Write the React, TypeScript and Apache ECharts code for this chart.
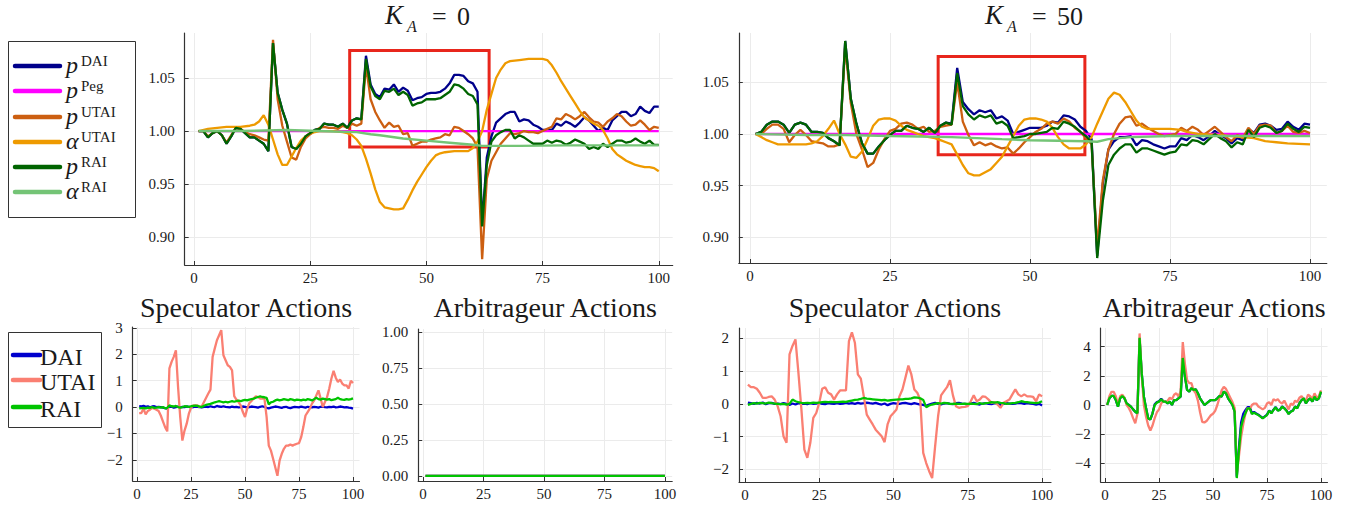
import React, { useEffect, useRef } from 'react';
import * as echarts from 'echarts';

// ---------------- data ----------------
const X_TICKS = [0, 25, 50, 75, 100];
const TOP_Y_TICKS = [0.9, 0.95, 1.0, 1.05];
const SPEC0_Y_TICKS = [-2, -1, 0, 1, 2, 3];
const ARB0_Y_TICKS = [0, 0.25, 0.5, 0.75, 1.0];
const SPEC50_Y_TICKS = [-2, -1, 0, 1, 2];
const ARB50_Y_TICKS = [-4, -2, 0, 2, 4];

// K_A = 0, prices (t = 1..100)
const TL_pDAI = [
  1.000, 1.000, 0.994, 0.998, 1.000, 0.996, 0.988, 0.995, 1.003, 1.002,
  0.998, 0.994, 0.994, 0.991, 0.988, 0.981, 1.083, 1.036, 1.020, 1.007,
  0.985, 0.983, 0.988, 0.995, 0.998, 1.001, 1.002, 1.007, 1.006, 1.006,
  1.004, 1.007, 1.003, 1.010, 1.012, 1.011, 1.071, 1.044, 1.035, 1.032,
  1.040, 1.039, 1.044, 1.037, 1.041, 1.038, 1.029, 1.031, 1.032, 1.035,
  1.036, 1.036, 1.037, 1.040, 1.045, 1.053, 1.053, 1.052, 1.047, 1.045,
  1.037, 0.912, 0.975, 0.995, 1.008, 1.012, 1.016, 1.018, 1.018, 1.009,
  1.011, 1.010, 1.006, 1.004, 1.001, 1.001, 1.001, 1.007, 1.005, 1.009,
  1.007, 1.004, 1.008, 1.013, 1.010, 1.005, 1.000, 1.003, 1.001, 1.010,
  1.014, 1.018, 1.018, 1.014, 1.016, 1.023, 1.019, 1.017, 1.023, 1.023,
];
const TL_pRAI = [
  1.000, 1.000, 0.994, 0.998, 1.000, 0.996, 0.988, 0.995, 1.003, 1.002,
  0.998, 0.994, 0.994, 0.991, 0.988, 0.981, 1.083, 1.036, 1.020, 1.007,
  0.985, 0.983, 0.988, 0.995, 0.998, 1.001, 1.002, 1.007, 1.006, 1.006,
  1.004, 1.007, 1.003, 1.010, 1.012, 1.011, 1.068, 1.042, 1.033, 1.030,
  1.038, 1.037, 1.040, 1.034, 1.037, 1.034, 1.024, 1.026, 1.027, 1.030,
  1.030, 1.030, 1.031, 1.034, 1.037, 1.044, 1.043, 1.040, 1.035, 1.033,
  1.025, 0.910, 0.968, 0.990, 0.996, 0.999, 1.001, 1.001, 0.993, 0.996,
  0.994, 0.991, 0.988, 0.988, 0.988, 0.991, 0.989, 0.991, 0.990, 0.987,
  0.989, 0.992, 0.990, 0.988, 0.983, 0.985, 0.983, 0.988, 0.985, 0.988,
  0.991, 0.991, 0.989, 0.990, 0.993, 0.990, 0.988, 0.991, 0.987, 0.987,
];
const TL_pUTAI = [
  1.000, 1.000, 0.995, 0.998, 1.000, 0.996, 0.989, 0.996, 1.003, 1.002,
  0.999, 0.997, 0.996, 0.994, 0.992, 0.991, 1.086, 1.030, 1.005, 0.990,
  0.975, 0.973, 0.985, 0.993, 0.997, 1.000, 1.003, 1.004, 1.003, 1.003,
  1.002, 1.005, 1.003, 1.007, 1.005, 1.007, 1.062, 1.030, 1.018, 1.010,
  1.003, 1.008, 1.004, 1.005, 0.997, 0.998, 0.986, 0.988, 0.990, 0.990,
  0.992, 0.993, 0.994, 0.997, 0.996, 1.004, 1.003, 1.000, 0.997, 0.993,
  0.985, 0.879, 0.955, 0.972, 0.980, 0.988, 0.993, 0.998, 0.997, 0.998,
  1.000, 0.999, 0.999, 0.998, 1.000, 1.002, 1.004, 1.012, 1.011, 1.016,
  1.014, 1.011, 1.014, 1.018, 1.013, 1.009, 1.008, 1.004, 1.009, 1.012,
  1.016, 1.014, 1.009, 1.005, 1.006, 1.010, 1.006, 1.001, 1.004, 1.003,
];
const TL_pPeg = [[1, 1.0], [100, 1.0]];
const TL_aUTAI = [
  [1, 1.000], [3, 1.002], [5, 1.003], [7, 1.004], [10, 1.004], [12, 1.005], [13, 1.006], [14, 1.009],
  [15, 1.015], [16, 1.006], [17, 0.992], [18, 0.978], [19, 0.968], [20, 0.968], [21, 0.976], [22, 0.984],
  [23, 0.991], [24, 0.995], [25, 0.998], [27, 1.000], [30, 1.000], [32, 0.999], [33, 0.998], [34, 0.996],
  [35, 0.992], [36, 0.986], [37, 0.974], [38, 0.960], [39, 0.945], [40, 0.933], [41, 0.928], [42, 0.927],
  [43, 0.926], [44, 0.926], [45, 0.927], [46, 0.935], [47, 0.944], [48, 0.952], [49, 0.959], [50, 0.966],
  [51, 0.972], [52, 0.977], [53, 0.979], [54, 0.980], [56, 0.981], [59, 0.981], [60, 0.984], [61, 0.990],
  [62, 1.000], [63, 1.020], [64, 1.035], [65, 1.050], [66, 1.058], [67, 1.064], [68, 1.066], [70, 1.067],
  [72, 1.068], [75, 1.068], [76, 1.067], [77, 1.062], [78, 1.055], [79, 1.047], [80, 1.040], [81, 1.033],
  [82, 1.026], [83, 1.019], [84, 1.013], [85, 1.010], [86, 1.007], [87, 1.005], [88, 1.001], [89, 0.993],
  [90, 0.983], [91, 0.978], [92, 0.975], [93, 0.972], [94, 0.970], [95, 0.968], [96, 0.967], [97, 0.966],
  [98, 0.966], [99, 0.965], [100, 0.962],
];
const TL_aRAI = [
  [1, 1.000], [10, 1.000], [20, 1.001], [30, 0.9995], [35, 0.999], [38, 0.997], [40, 0.996], [45, 0.993],
  [50, 0.991], [55, 0.989], [60, 0.987], [62, 0.986], [70, 0.986], [80, 0.9865], [90, 0.9865], [100, 0.9865],
];
const TL_BOX = [[33.5, 0.985], [63.5, 1.076]];

// K_A = 50, prices
const TR_pDAI = [
  1.000, 1.002, 1.009, 1.012, 1.012, 1.009, 1.001, 1.009, 1.011, 1.009,
  1.002, 1.002, 1.001, 0.996, 0.993, 0.989, 1.090, 1.034, 1.010, 0.991,
  0.981, 0.981, 0.988, 0.994, 0.999, 1.003, 1.003, 1.008, 1.006, 1.005,
  1.002, 1.006, 1.001, 1.008, 1.011, 1.010, 1.064, 1.031, 1.024, 1.019,
  1.023, 1.021, 1.023, 1.015, 1.017, 1.013, 1.000, 1.002, 1.004, 1.006,
  1.006, 1.006, 1.008, 1.012, 1.011, 1.018, 1.017, 1.014, 1.007, 1.003,
  0.995, 0.882, 0.952, 0.985, 0.993, 0.997, 0.997, 0.998, 0.989, 0.994,
  0.993, 0.990, 0.988, 0.986, 0.988, 0.988, 0.996, 0.994, 0.999, 0.997,
  0.994, 0.998, 1.003, 0.999, 0.996, 0.991, 0.996, 0.994, 1.005, 1.001,
  1.009, 1.010, 1.008, 1.004, 1.005, 1.012, 1.007, 1.004, 1.010, 1.009,
];
const TR_pRAI = [
  1.000, 1.002, 1.009, 1.012, 1.012, 1.009, 1.001, 1.009, 1.011, 1.009,
  1.002, 1.002, 1.001, 0.996, 0.993, 0.989, 1.090, 1.034, 1.010, 0.991,
  0.981, 0.981, 0.988, 0.994, 0.999, 1.003, 1.003, 1.008, 1.006, 1.005,
  1.002, 1.006, 1.001, 1.008, 1.011, 1.009, 1.059, 1.027, 1.019, 1.014,
  1.018, 1.016, 1.018, 1.010, 1.012, 1.008, 0.996, 0.997, 0.998, 1.000,
  1.000, 1.001, 1.002, 1.006, 1.005, 1.012, 1.010, 1.007, 1.002, 0.998,
  0.992, 0.880, 0.935, 0.970, 0.980, 0.986, 0.990, 0.990, 0.982, 0.986,
  0.986, 0.984, 0.982, 0.980, 0.982, 0.983, 0.990, 0.989, 0.994, 0.993,
  0.990, 0.995, 1.000, 0.996, 0.993, 0.987, 0.992, 0.990, 1.004, 0.997,
  1.006, 1.008, 1.006, 1.001, 1.003, 1.010, 1.005, 1.002, 1.007, 1.006,
];
const TR_pUTAI = [
  1.000, 1.000, 1.005, 1.009, 1.009, 1.005, 0.992, 0.999, 1.004, 0.999,
  0.993, 0.992, 0.991, 0.988, 0.988, 0.990, 1.085, 1.030, 1.000, 0.985,
  0.968, 0.972, 0.985, 0.995, 1.003, 1.005, 1.010, 1.011, 1.009, 1.005,
  1.007, 1.002, 1.003, 1.007, 1.008, 1.009, 1.050, 1.012, 0.999, 0.989,
  0.992, 0.989, 0.991, 0.988, 0.986, 0.987, 0.981, 0.986, 0.992, 0.997,
  1.002, 1.005, 1.010, 1.012, 1.010, 1.015, 1.012, 1.006, 1.002, 0.996,
  0.990, 0.890, 0.955, 0.985, 1.000, 1.010, 1.016, 1.017, 1.008, 1.010,
  1.006, 1.003, 1.000, 0.998, 0.999, 1.000, 1.006, 1.003, 1.007, 1.004,
  0.999, 1.003, 1.007, 1.002, 0.997, 0.993, 0.999, 0.996, 1.006, 1.000,
  1.008, 1.009, 1.008, 1.001, 1.003, 1.008, 1.002, 1.001, 1.003, 1.001,
];
const TR_pPeg = [[1, 1.0], [100, 1.0]];
const TR_aUTAI = [
  [1, 1.000], [2, 0.997], [3, 0.994], [4, 0.992], [5, 0.990], [10, 0.990], [11, 0.991], [12, 0.993],
  [13, 0.998], [14, 1.005], [15, 1.013], [16, 1.000], [17, 0.990], [18, 0.978], [19, 0.977], [20, 0.983],
  [21, 0.995], [22, 1.008], [23, 1.014], [24, 1.015], [25, 1.015], [26, 1.013], [27, 1.008], [28, 1.004],
  [29, 1.002], [30, 1.000], [31, 0.998], [32, 0.997], [33, 0.996], [34, 0.994], [35, 0.992], [36, 0.990],
  [37, 0.980], [38, 0.970], [39, 0.962], [40, 0.960], [41, 0.960], [42, 0.963], [43, 0.966], [44, 0.972],
  [45, 0.978], [46, 0.988], [47, 0.998], [48, 1.008], [49, 1.014], [50, 1.015], [51, 1.015], [52, 1.014],
  [53, 1.012], [54, 1.006], [55, 0.997], [56, 0.990], [57, 0.986], [59, 0.986], [60, 0.990], [61, 0.997],
  [62, 1.010], [63, 1.022], [64, 1.034], [65, 1.040], [66, 1.038], [67, 1.031], [68, 1.022], [69, 1.013],
  [70, 1.007], [71, 1.005], [75, 1.005], [77, 1.004], [78, 1.002], [80, 1.000], [84, 0.999], [86, 0.998],
  [88, 0.997], [90, 0.996], [92, 0.993], [94, 0.992], [96, 0.991], [100, 0.990],
];
const TR_aRAI = [
  [1, 1.000], [10, 0.999], [17, 0.999], [25, 0.998], [36, 0.997], [45, 0.995], [50, 0.994], [55, 0.9935],
  [60, 0.993], [62, 0.9925], [64, 0.995], [68, 0.997], [75, 0.998], [100, 0.998],
];
const TR_BOX = [[33.6, 0.980], [59.8, 1.075]];

// Speculator actions, K_A = 0
const S0_DAI = [
  0.03, 0.02, 0.05, 0.01, 0.03, -0.01, 0.02, 0.03, 0.00, 0.01,
  0.00, -0.02, -0.04, -0.06, 0.02, 0.01, -0.02, 0.00, 0.02, -0.01,
  0.01, 0.00, 0.02, 0.01, -0.01, 0.00, 0.02, 0.01, 0.00, -0.01,
  0.01, 0.02, 0.00, 0.03, 0.01, 0.00, 0.04, 0.02, 0.01, 0.03,
  0.01, 0.00, -0.01, 0.02, 0.00, 0.01, -0.01, 0.00, 0.02, 0.01,
  -0.01, 0.00, 0.02, 0.01, 0.00, -0.02, 0.01, 0.03, 0.00, -0.03,
  -0.05, -0.02, 0.00, 0.02, 0.01, -0.01, -0.03, 0.00, 0.01, -0.02,
  -0.04, -0.01, 0.01, 0.00, -0.01, 0.02, 0.00, -0.02, 0.01, 0.00,
  -0.01, 0.01, 0.00, -0.02, 0.01, 0.02, 0.00, -0.01, 0.01, 0.00,
  0.02, -0.01, 0.00, 0.02, 0.01, -0.01, 0.00, -0.02, -0.03, -0.06,
];
const S0_UTAI = [
  -0.23, -0.23, -0.06, -0.28, -0.15, -0.10, -0.03, -0.06, -0.10, -0.15,
  -0.32, -0.54, -0.76, -0.92, 1.46, 1.71, 1.90, 2.15, 0.76, -0.38,
  -1.27, -0.89, -0.63, -0.25, -0.03, 0.06, 0.06, 0.06, 0.00, 0.03,
  0.19, 0.35, 0.51, 0.66, 1.90, 2.22, 2.53, 2.72, 2.91, 1.96,
  1.77, 1.58, 1.52, 1.39, 0.41, 0.28, 0.19, 0.06, -0.19, -0.38,
  -0.06, 0.15, 0.23, 0.32, 0.41, 0.38, 0.32, 0.32, 0.32, -0.38,
  -1.46, -1.65, -1.96, -2.28, -2.60, -2.03, -1.77, -1.58, -1.46, -1.46,
  -1.42, -1.46, -1.42, -1.39, -1.37, -1.14, -0.76, -0.32, -0.19, -0.06,
  0.13, 0.25, 0.44, 0.63, 0.32, 0.00, 0.19, 0.38, 0.70, 1.08,
  1.37, 1.11, 0.95, 1.04, 0.89, 0.82, 0.82, 0.70, 0.99, 0.91,
];
const S0_RAI = [
  -0.05, -0.04, -0.03, -0.05, -0.02, -0.03, 0.00, -0.03, -0.02, 0.00,
  -0.02, 0.00, -0.05, -0.03, 0.06, 0.03, 0.02, 0.04, 0.00, -0.02,
  0.00, 0.03, 0.02, 0.01, 0.03, 0.04, 0.05, 0.04, 0.02, 0.00,
  0.05, 0.08, 0.10, 0.12, 0.15, 0.18, 0.20, 0.22, 0.20, 0.18,
  0.20, 0.18, 0.20, 0.22, 0.20, 0.22, 0.24, 0.22, 0.25, 0.27,
  0.25, 0.28, 0.30, 0.32, 0.35, 0.38, 0.40, 0.38, 0.37, 0.35,
  0.10, 0.18, 0.20, 0.25, 0.28, 0.25, 0.27, 0.30, 0.28, 0.26,
  0.30, 0.28, 0.25, 0.28, 0.27, 0.25, 0.28, 0.26, 0.30, 0.28,
  0.25, 0.30, 0.35, 0.30, 0.28, 0.32, 0.30, 0.28, 0.30, 0.26,
  0.28, 0.30, 0.35, 0.30, 0.28, 0.27, 0.30, 0.28, 0.30, 0.33,
];

// Arbitrageur actions, K_A = 0 (all zero)
const A0_DAI = [[1, 0], [100, 0]];
const A0_UTAI = [[1, 0], [100, 0]];
const A0_RAI = [[1, 0], [100, 0]];

// Speculator actions, K_A = 50
const S50_DAI = [
  0.04, 0.02, 0.00, 0.03, 0.01, 0.04, -0.01, 0.02, 0.03, 0.00,
  0.01, -0.01, 0.02, 0.00, -0.03, 0.01, -0.02, 0.02, 0.00, 0.01,
  -0.01, 0.02, 0.00, 0.01, 0.03, 0.00, -0.01, 0.02, 0.01, 0.00,
  0.02, 0.00, 0.01, 0.03, 0.01, 0.02, 0.00, 0.03, 0.01, 0.02,
  0.04, 0.02, 0.01, 0.03, 0.00, -0.02, 0.01, -0.04, 0.00, 0.02,
  0.01, 0.00, 0.02, 0.03, 0.01, -0.01, 0.02, 0.00, -0.02, -0.03,
  -0.06, -0.02, 0.01, 0.03, 0.00, -0.02, 0.01, 0.02, 0.00, -0.01,
  0.02, 0.03, 0.01, 0.00, -0.02, 0.01, 0.03, 0.00, -0.02, 0.01,
  0.02, 0.00, -0.01, 0.02, 0.01, -0.03, 0.00, 0.02, 0.01, 0.00,
  0.01, 0.03, 0.02, 0.00, 0.02, 0.01, 0.00, -0.02, 0.00, -0.05,
];
const S50_UTAI = [
  0.59, 0.51, 0.51, 0.46, 0.34, 0.18, 0.18, 0.21, 0.23, 0.13,
  -0.07, -0.38, -1.00, -1.19, 1.51, 1.77, 1.97, 0.95, -0.17, -1.40,
  -1.65, -1.19, -0.43, -0.28, 0.03, 0.46, 0.51, 0.34, 0.29, 0.13,
  0.29, 0.41, 0.41, 0.41, 1.92, 2.19, 1.87, 0.90, 0.77, 0.23,
  -0.33, -0.48, -0.63, -0.79, -0.89, -0.99, -1.17, -0.63, -0.38, -0.28,
  -0.17, 0.23, 0.44, 0.80, 1.17, 0.90, 0.44, 0.34, 0.13, -1.50,
  -1.81, -2.06, -2.27, -1.30, -0.38, 0.26, 0.39, 0.51, 0.72, 0.26,
  -0.07, -0.12, -0.10, -0.09, -0.07, 0.08, 0.26, 0.08, 0.13, 0.23,
  0.21, 0.13, 0.03, 0.05, -0.02, -0.12, 0.03, 0.08, 0.13, 0.29,
  0.44, 0.29, 0.23, 0.29, 0.23, 0.23, 0.21, 0.08, 0.29, 0.23,
];
const S50_RAI = [
  -0.03, 0.00, 0.02, 0.01, 0.03, 0.02, 0.01, 0.04, 0.02, 0.01,
  0.00, -0.01, 0.00, -0.02, 0.00, 0.13, 0.08, 0.05, 0.03, 0.02,
  0.03, 0.02, 0.04, 0.03, 0.04, 0.05, 0.06, 0.05, 0.06, 0.05,
  0.05, 0.06, 0.07, 0.06, 0.08, 0.10, 0.12, 0.13, 0.15, 0.18,
  0.16, 0.15, 0.14, 0.13, 0.12, 0.11, 0.12, 0.10, 0.11, 0.12,
  0.13, 0.14, 0.14, 0.15, 0.15, 0.17, 0.20, 0.19, 0.17, 0.12,
  -0.10, -0.05, -0.02, 0.00, 0.02, 0.01, 0.03, 0.02, 0.00, 0.00,
  0.01, 0.00, 0.00, 0.01, 0.00, 0.01, 0.00, -0.01, 0.02, 0.00,
  0.02, 0.03, 0.05, 0.04, 0.05, 0.03, 0.02, 0.00, 0.01, 0.02,
  0.03, 0.05, 0.08, 0.06, 0.05, 0.04, 0.03, 0.02, 0.04, 0.08,
];

// Arbitrageur actions, K_A = 50
const A50_DAI = [
  0.00, 0.46, 0.62, 0.62, 0.34, -0.11, 0.46, 0.62, 0.46, 0.11,
  0.00, -0.11, -0.30, -0.46, -0.57, 4.55, 2.15, 0.57, -0.23, -0.92,
  -0.99, -0.57, 0.05, 0.20, 0.25, 0.42, 0.25, 0.23, 0.11, 0.23,
  0.00, 0.34, 0.34, 0.46, 0.57, 3.20, 1.95, 1.03, 0.92, 1.15,
  1.03, 1.08, 0.80, 0.46, 0.23, 0.00, 0.11, 0.23, 0.34, 0.34,
  0.34, 0.46, 0.62, 0.57, 0.92, 0.80, 0.46, 0.23, 0.00, -0.46,
  -4.90, -2.90, -1.20, -0.60, -0.35, -0.15, -0.15, -0.55, -0.48, -0.58,
  -0.66, -0.78, -0.90, -0.78, -0.66, -0.37, -0.55, -0.32, -0.14, -0.37,
  -0.32, -0.10, -0.21, -0.37, -0.60, -0.44, -0.37, -0.10, -0.21, 0.12,
  0.34, 0.46, 0.11, 0.34, 0.46, 0.23, 0.57, 0.34, 0.46, 0.92,
];
const A50_UTAI = [
  0.00, 0.60, 0.90, 0.90, 0.60, 0.00, 0.60, 0.70, 0.50, 0.00,
  -0.20, -0.50, -0.90, -1.25, -0.60, 4.90, 2.00, 0.00, -0.80, -1.40,
  -1.75, -1.40, -0.90, -0.50, -0.30, 0.10, 0.30, 0.20, 0.30, 0.50,
  0.40, 0.70, 0.80, 0.60, 0.90, 4.30, 2.80, 1.70, 1.50, 1.50,
  1.00, 0.80, 0.30, -0.50, -1.15, -1.20, -1.10, -0.90, -0.70, -0.60,
  -0.40, 0.00, 0.50, 1.00, 1.25, 1.10, 0.80, 0.50, 0.20, -0.20,
  -4.70, -3.50, -2.20, -1.30, -0.60, -0.20, -0.30, 0.00, 0.10, 0.10,
  -0.10, -0.20, -0.30, -0.20, 0.10, 0.20, 0.00, 0.40, 0.30, 0.40,
  0.20, 0.10, 0.30, 0.00, -0.30, 0.10, 0.00, 0.30, 0.20, 0.50,
  0.60, 0.40, 0.30, 0.70, 0.60, 0.40, 0.80, 0.50, 0.60, 1.00,
];
const A50_RAI = [
  0.00, 0.46, 0.62, 0.62, 0.34, -0.11, 0.46, 0.62, 0.46, 0.11,
  0.00, -0.11, -0.30, -0.46, -0.57, 4.60, 2.18, 0.57, -0.23, -0.92,
  -0.99, -0.57, 0.00, 0.16, 0.23, 0.39, 0.23, 0.23, 0.11, 0.23,
  0.00, 0.34, 0.34, 0.46, 0.57, 3.22, 1.95, 1.03, 0.92, 1.15,
  1.03, 1.08, 0.80, 0.46, 0.23, 0.00, 0.11, 0.23, 0.34, 0.34,
  0.34, 0.46, 0.62, 0.57, 0.92, 0.80, 0.46, 0.23, 0.00, -0.46,
  -5.00, -3.10, -1.50, -0.92, -0.57, -0.23, -0.23, -0.62, -0.53, -0.62,
  -0.69, -0.80, -0.92, -0.80, -0.69, -0.39, -0.57, -0.34, -0.16, -0.39,
  -0.34, -0.11, -0.23, -0.39, -0.62, -0.46, -0.39, -0.11, -0.23, 0.11,
  0.34, 0.46, 0.11, 0.34, 0.46, 0.23, 0.57, 0.34, 0.46, 0.92,
];

// ---------------- styling ----------------
const FONT = 'Liberation Serif, serif';
const AXIS_COLOR = '#333333';
const GRID_COLOR = '#ebebeb';
const TEXT_COLOR = '#1a1a1a';

const C_pDAI = '#00008b';
const C_pPeg = '#ff00ff';
const C_pUTAI = '#cc5f11';
const C_aUTAI = '#ee9a00';
const C_pRAI = '#006400';
const C_aRAI = '#74c476';
const C_DAI = '#0000cd';
const C_UTAI = '#fa7f72';
const C_RAI = '#00c400';

const toXY = (arr: number[]) => arr.map((v, i) => [i + 1, v]);
const minus = (v: number) => (v < 0 ? '\u2212' + Math.abs(v) : String(v));

const GRIDS = [
  { left: 184.7, top: 33, width: 488, height: 232 },
  { left: 738.8, top: 33, width: 588, height: 230 },
  { left: 132.7, top: 327, width: 226.8, height: 154 },
  { left: 418.2, top: 329, width: 254, height: 152 },
  { left: 739, top: 328, width: 312, height: 154 },
  { left: 1100.7, top: 328, width: 226.8, height: 154 },
];
const Y_RANGES = [
  [0.8736, 1.0925],
  [0.8752, 1.0977],
  [-2.8, 3.03],
  [-0.035, 1.021],
  [-2.39, 2.32],
  [-5.27, 5.27],
];
const Y_TICKS = [TOP_Y_TICKS, TOP_Y_TICKS, SPEC0_Y_TICKS, ARB0_Y_TICKS, SPEC50_Y_TICKS, ARB50_Y_TICKS];
const Y_FMT = [
  (v: number) => v.toFixed(2),
  (v: number) => v.toFixed(2),
  minus,
  (v: number) => v.toFixed(2),
  minus,
  minus,
];

function line(name: string, data: any[], color: string, gi: number, width = 2.3, extra: any = {}) {
  return {
    name,
    type: 'line',
    xAxisIndex: gi,
    yAxisIndex: gi,
    data,
    showSymbol: false,
    symbol: 'none',
    lineStyle: { color, width },
    itemStyle: { color },
    z: 3,
    ...extra,
  };
}

function redBox(box: number[][]) {
  return {
    silent: true,
    itemStyle: { color: 'rgba(0,0,0,0)', borderColor: '#e8261c', borderWidth: 3 },
    data: [[{ coord: box[0] }, { coord: box[1] }]],
  };
}

function buildOption() {
  const xAxis = GRIDS.map((_, gi) => ({
    type: 'value',
    gridIndex: gi,
    min: -2,
    max: 103,
    axisLine: { show: true, onZero: false, lineStyle: { color: AXIS_COLOR, width: 1.2 } },
    axisTick: { show: true, inside: true, length: 4, customValues: X_TICKS, lineStyle: { color: AXIS_COLOR } },
    axisLabel: { customValues: X_TICKS, fontFamily: FONT, fontSize: 15, color: TEXT_COLOR, margin: 5 },
    splitLine: { show: true, lineStyle: { color: GRID_COLOR, width: 1 } },
  }));
  const yAxis = GRIDS.map((_, gi) => ({
    type: 'value',
    gridIndex: gi,
    min: Y_RANGES[gi][0],
    max: Y_RANGES[gi][1],
    axisLine: { show: true, onZero: false, lineStyle: { color: AXIS_COLOR, width: 1.2 } },
    axisTick: { show: true, inside: true, length: 4, customValues: Y_TICKS[gi], lineStyle: { color: AXIS_COLOR } },
    axisLabel: {
      customValues: Y_TICKS[gi],
      formatter: Y_FMT[gi],
      fontFamily: FONT,
      fontSize: 15,
      color: TEXT_COLOR,
      margin: 10,
    },
    splitLine: { show: true, lineStyle: { color: GRID_COLOR, width: 1 } },
  }));

  const series = [
    line('pDAI0', toXY(TL_pDAI), C_pDAI, 0),
    line('pPeg0', TL_pPeg, C_pPeg, 0),
    line('pUTAI0', toXY(TL_pUTAI), C_pUTAI, 0),
    line('aUTAI0', TL_aUTAI, C_aUTAI, 0),
    line('pRAI0', toXY(TL_pRAI), C_pRAI, 0),
    line('aRAI0', TL_aRAI, C_aRAI, 0, 2.4, { markArea: redBox(TL_BOX) }),

    line('pDAI50', toXY(TR_pDAI), C_pDAI, 1),
    line('pPeg50', TR_pPeg, C_pPeg, 1),
    line('pUTAI50', toXY(TR_pUTAI), C_pUTAI, 1),
    line('aUTAI50', TR_aUTAI, C_aUTAI, 1),
    line('pRAI50', toXY(TR_pRAI), C_pRAI, 1),
    line('aRAI50', TR_aRAI, C_aRAI, 1, 2.4, { markArea: redBox(TR_BOX) }),

    line('sDAI0', toXY(S0_DAI), C_DAI, 2),
    line('sUTAI0', toXY(S0_UTAI), C_UTAI, 2),
    line('sRAI0', toXY(S0_RAI), C_RAI, 2),

    line('aDAI0', A0_DAI, C_DAI, 3),
    line('aUTAI0b', A0_UTAI, C_UTAI, 3),
    line('aRAI0b', A0_RAI, C_RAI, 3),

    line('sDAI50', toXY(S50_DAI), C_DAI, 4),
    line('sUTAI50', toXY(S50_UTAI), C_UTAI, 4),
    line('sRAI50', toXY(S50_RAI), C_RAI, 4),

    line('aDAI50', toXY(A50_DAI), C_DAI, 5),
    line('aUTAI50b', toXY(A50_UTAI), C_UTAI, 5),
    line('aRAI50b', toXY(A50_RAI), C_RAI, 5),
  ];

  const graphic: any[] = [];

  // Top legend
  graphic.push({
    type: 'rect',
    shape: { x: 8.5, y: 41.5, width: 127, height: 176 },
    style: { fill: '#fff', stroke: '#333', lineWidth: 1 },
    z: 10,
  });
  const topLegend = [
    { sym: 'p', sup: 'DAI', color: C_pDAI, cy: 66 },
    { sym: 'p', sup: 'Peg', color: C_pPeg, cy: 91 },
    { sym: 'p', sup: 'UTAI', color: C_pUTAI, cy: 117 },
    { sym: '\u03b1', sup: 'UTAI', color: C_aUTAI, cy: 142 },
    { sym: 'p', sup: 'RAI', color: C_pRAI, cy: 167 },
    { sym: '\u03b1', sup: 'RAI', color: C_aRAI, cy: 192 },
  ];
  topLegend.forEach((e) => {
    graphic.push({
      type: 'line',
      shape: { x1: 15, y1: e.cy, x2: 60, y2: e.cy },
      style: { stroke: e.color, lineWidth: 4.5, lineCap: 'round' },
      z: 11,
    });
    graphic.push({
      type: 'text',
      x: 66,
      y: e.cy - 1,
      style: { text: e.sym, fontFamily: FONT, fontStyle: 'italic', fontSize: 24, fill: TEXT_COLOR, verticalAlign: 'middle' },
      z: 11,
    });
    graphic.push({
      type: 'text',
      x: 81,
      y: e.cy - 5,
      style: { text: e.sup, fontFamily: FONT, fontSize: 15, fill: TEXT_COLOR, verticalAlign: 'middle' },
      z: 11,
    });
  });

  // Bottom legend
  graphic.push({
    type: 'rect',
    shape: { x: 8.5, y: 332.5, width: 93, height: 95 },
    style: { fill: '#fff', stroke: '#333', lineWidth: 1 },
    z: 10,
  });
  const botLegend = [
    { name: 'DAI', color: C_DAI, cy: 355 },
    { name: 'UTAI', color: C_UTAI, cy: 380 },
    { name: 'RAI', color: C_RAI, cy: 407 },
  ];
  botLegend.forEach((e) => {
    graphic.push({
      type: 'line',
      shape: { x1: 13, y1: e.cy, x2: 40, y2: e.cy },
      style: { stroke: e.color, lineWidth: 4.5, lineCap: 'round' },
      z: 11,
    });
    graphic.push({
      type: 'text',
      x: 40,
      y: e.cy + 2,
      style: { text: e.name, fontFamily: FONT, fontSize: 24, fill: TEXT_COLOR, verticalAlign: 'middle' },
      z: 11,
    });
  });

  // Subplot titles
  const subTitles = [
    { text: 'Speculator Actions', gi: 2 },
    { text: 'Arbitrageur Actions', gi: 3 },
    { text: 'Speculator Actions', gi: 4 },
    { text: 'Arbitrageur Actions', gi: 5 },
  ];
  subTitles.forEach((t) => {
    const g = GRIDS[t.gi];
    graphic.push({
      type: 'text',
      x: g.left + g.width / 2,
      y: 307,
      style: { text: t.text, fontFamily: FONT, fontSize: 28, fill: TEXT_COLOR, align: 'center', verticalAlign: 'middle' },
    });
  });

  // Top titles: K_A = 0, K_A = 50
  const mathTitles = [
    { kx: 385, val: '0' },
    { kx: 985, val: '50' },
  ];
  mathTitles.forEach((m) => {
    graphic.push({
      type: 'text', x: m.kx, y: 15,
      style: { text: 'K', fontFamily: FONT, fontStyle: 'italic', fontSize: 27, fill: TEXT_COLOR, verticalAlign: 'middle' },
    });
    graphic.push({
      type: 'text', x: m.kx + 22, y: 26,
      style: { text: 'A', fontFamily: FONT, fontStyle: 'italic', fontSize: 16, fill: TEXT_COLOR, verticalAlign: 'middle' },
    });
    graphic.push({
      type: 'text', x: m.kx + 47, y: 16,
      style: { text: '=', fontFamily: FONT, fontSize: 26, fill: TEXT_COLOR, verticalAlign: 'middle' },
    });
    graphic.push({
      type: 'text', x: m.kx + 72, y: 16,
      style: { text: m.val, fontFamily: FONT, fontSize: 26, fill: TEXT_COLOR, verticalAlign: 'middle' },
    });
  });

  return {
    animation: false,
    backgroundColor: '#ffffff',
    textStyle: { fontFamily: FONT },
    grid: GRIDS.map((g) => ({ ...g, containLabel: false })),
    xAxis,
    yAxis,
    series,
    graphic,
  };
}

export default function App() {
  const ref = useRef<HTMLDivElement>(null);
  useEffect(() => {
    if (!ref.current) return;
    const chart = echarts.init(ref.current, undefined, { renderer: 'svg' });
    chart.setOption(buildOption() as any);
    return () => chart.dispose();
  }, []);
  return (
    <div
      ref={ref}
      style={{ position: 'fixed', left: 0, top: 0, width: 1351, height: 510, background: '#fff' }}
    />
  );
}
